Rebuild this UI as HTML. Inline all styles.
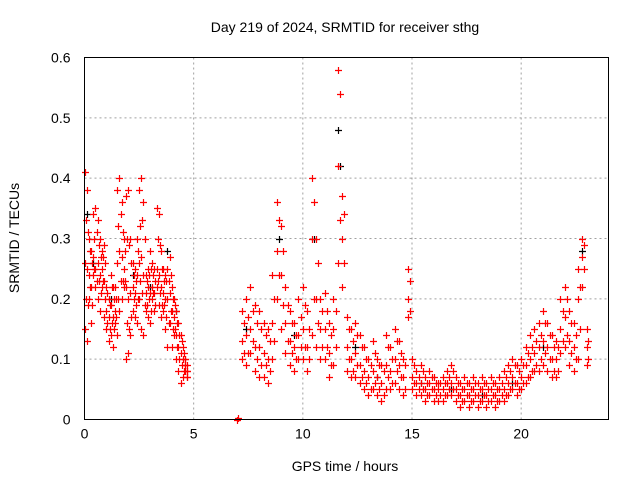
<!DOCTYPE html>
<html><head><meta charset="utf-8"><style>
body{margin:0;background:#fff}
svg{display:block;font-family:"Liberation Sans",sans-serif}
</style></head><body>
<svg id="chart" width="640" height="480" viewBox="0 0 640 480">
<rect x="0" y="0" width="640" height="480" fill="#fff"/>
<text x="345" y="32" font-size="14" text-anchor="middle" fill="#000">Day 219 of 2024, SRMTID for receiver sthg</text>
<text x="345" y="471" font-size="14" text-anchor="middle">GPS time / hours</text>
<text transform="translate(19,238) rotate(-90)" font-size="14" text-anchor="middle">SRMTID / TECUs</text>
<g id="grid"></g><g id="ticks"></g><g id="marks"></g>
<rect x="84.5" y="57.5" width="524" height="362" fill="none" stroke="#000" stroke-width="1"/>
</svg>
<script>
const xTicks=[0,5,10,15,20];
const yTicks=[0,0.1,0.2,0.3,0.4,0.5,0.6];
const yTickLabels=["0","0.1","0.2","0.3","0.4","0.5","0.6"];
const timesA=[0.0,0.1,0.2,0.3,0.4,0.5,0.6,0.7,0.8,0.9,1.0,1.1,1.2,1.3,1.4,1.5,1.6,1.7,1.8,1.9,2.0,2.1,2.2,2.3,2.4,2.5,2.6,2.7,2.8,2.9,3.0,3.1,3.2,3.3,3.4,3.5,3.6,3.7,3.8,3.9,4.0,4.1,4.2,4.3,4.4,4.5,4.6,4.7];
const timesA2=[0.05,0.15,0.25,0.35,0.45,0.55,0.65,0.75,0.85,0.95,1.05,1.15,1.25,1.35,1.45,1.55,1.65,1.75,1.85,1.95,2.05,2.15,2.25,2.35,2.45,2.55,2.65,2.75,2.85,2.95,3.05,3.15,3.25,3.35,3.45,3.55,3.65,3.75,3.85,3.95,4.05,4.15,4.25,4.35,4.45,4.55,4.62,4.68];
const hiA=[.41,.38,.30,.28,.34,.35,.33,.30,.28,.29,.22,.20,.24,.22,.22,.38,.40,.36,.30,.37,.38,.30,.26,.25,.30,.38,.40,.36,.24,.25,.28,.26,.25,.35,.34,.28,.25,.24,.25,.27,.22,.20,.18,.16,.14,.12,.10,.08];
const hi2A=[.33,.31,.28,.26,.30,.31,.29,.27,.27,.26,.21,.19,.22,.20,.20,.32,.34,.31,.28,.30,.29,.26,.24,.23,.28,.32,.33,.30,.23,.24,.25,.24,.23,.30,.29,.25,.23,.23,.23,.24,.20,.19,.16,.14,.13,.11,.10,.09];
const midA=[.26,.25,.24,.22,.27,.25,.26,.24,.25,.23,.18,.17,.19,.17,.18,.26,.28,.27,.25,.22,.20,.21,.22,.21,.24,.26,.27,.24,.21,.22,.21,.22,.21,.25,.24,.22,.21,.20,.20,.21,.18,.17,.14,.12,.11,.10,.09,.08];
const lo2A=[.20,.19,.22,.19,.25,.23,.23,.21,.23,.20,.16,.15,.16,.15,.17,.20,.23,.23,.23,.16,.15,.17,.20,.19,.20,.23,.21,.19,.19,.20,.18,.21,.19,.23,.21,.19,.19,.17,.16,.18,.15,.15,.12,.10,.09,.08,.08,.07];
const loA=[.15,.13,.20,.16,.24,.22,.20,.18,.22,.17,.15,.13,.14,.12,.16,.14,.18,.20,.22,.10,.11,.14,.18,.17,.16,.20,.15,.14,.18,.17,.16,.20,.18,.22,.19,.17,.18,.15,.12,.16,.12,.14,.10,.08,.06,.07,.09,.07];
const timesB=[7.2,7.4,7.6,7.8,8.0,8.2,8.4,8.6,8.8,9.0,9.2,9.4,9.6,9.8,10.0,10.2,10.4,10.6,10.8,11.0,11.2,11.4,11.6,11.8,12.0,12.2,12.4,12.6,12.8,13.0,13.2,13.4,13.6,13.8,14.0,14.2,14.4,14.6,14.8,15.0,15.2,15.4,15.6,15.8,16.0,16.2,16.4,16.6,16.8,17.0,17.2,17.4,17.6,17.8,18.0,18.2,18.4,18.6,18.8,19.0,19.2,19.4,19.6,19.8,20.0,20.2,20.4,20.6,20.8,21.0,21.2,21.4,21.6,21.8,22.0,22.2,22.4,22.6,22.8,23.0];
const timesB2=[7.3,7.5,7.7,7.9,8.1,8.3,8.5,8.7,8.9,9.1,9.3,9.5,9.7,9.9,10.1,10.3,10.5,10.7,10.9,11.1,11.3,11.5,11.7,11.9,12.1,12.3,12.5,12.7,12.9,13.1,13.3,13.5,13.7,13.9,14.1,14.3,14.5,14.7,14.9,15.1,15.3,15.5,15.7,15.9,16.1,16.3,16.5,16.7,16.9,17.1,17.3,17.5,17.7,17.9,18.1,18.3,18.5,18.7,18.9,19.1,19.3,19.5,19.7,19.9,20.1,20.3,20.5,20.7,20.9,21.1,21.3,21.5,21.7,21.9,22.1,22.3,22.5,22.7,22.9,23.05];
const hiB=[.18,.20,.22,.19,.18,.16,.15,.24,.36,.32,.22,.18,.16,.20,.22,.18,.40,.30,.20,.21,.16,.20,.58,.37,.17,.15,.16,.14,.12,.10,.13,.10,.09,.14,.12,.15,.13,.10,.25,.10,.08,.09,.07,.08,.07,.06,.07,.08,.09,.07,.06,.07,.06,.07,.06,.07,.06,.07,.06,.07,.08,.09,.10,.09,.10,.12,.14,.15,.16,.18,.16,.14,.13,.20,.22,.18,.16,.25,.30,.15];
const hi2B=[.16,.17,.18,.16,.15,.14,.13,.20,.33,.28,.19,.16,.14,.17,.19,.15,.36,.26,.18,.18,.14,.18,.54,.34,.15,.13,.14,.12,.10,.09,.11,.09,.08,.12,.10,.13,.11,.09,.23,.09,.07,.08,.06,.07,.06,.06,.06,.07,.08,.06,.05,.06,.05,.06,.05,.06,.05,.06,.05,.06,.07,.08,.09,.08,.09,.11,.12,.13,.14,.16,.14,.12,.12,.18,.20,.16,.14,.22,.29,.13];
const midB=[.13,.14,.15,.12,.12,.11,.10,.16,.28,.24,.16,.13,.12,.14,.15,.12,.30,.20,.15,.15,.11,.15,.42,.30,.12,.10,.11,.09,.08,.07,.08,.07,.06,.09,.08,.10,.09,.07,.20,.07,.06,.06,.05,.06,.05,.05,.05,.06,.06,.05,.04,.05,.04,.05,.04,.05,.04,.05,.04,.05,.05,.06,.07,.06,.07,.09,.10,.11,.12,.13,.12,.10,.10,.15,.17,.13,.12,.20,.27,.12];
const lo2B=[.11,.11,.13,.10,.09,.09,.08,.13,.24,.19,.13,.11,.10,.12,.12,.10,.20,.16,.12,.12,.09,.12,.33,.26,.10,.08,.09,.07,.06,.05,.06,.05,.04,.07,.06,.08,.07,.05,.18,.06,.05,.05,.04,.05,.04,.04,.04,.05,.05,.04,.03,.04,.03,.04,.03,.04,.03,.04,.03,.04,.04,.05,.06,.05,.06,.07,.08,.09,.10,.11,.10,.08,.08,.13,.14,.11,.10,.15,.25,.10];
const loB=[.10,.09,.11,.08,.07,.07,.06,.10,.20,.15,.11,.09,.08,.10,.10,.08,.14,.12,.10,.10,.07,.09,.26,.22,.08,.07,.07,.06,.05,.04,.05,.04,.03,.05,.05,.06,.05,.04,.17,.05,.04,.04,.03,.04,.03,.03,.03,.04,.04,.03,.02,.03,.02,.03,.02,.03,.02,.03,.02,.03,.03,.04,.05,.04,.05,.06,.07,.08,.08,.09,.08,.07,.07,.11,.12,.09,.08,.10,.22,.09];
const blackTimes=[0.1,0.4,1.2,2.2,3.0,3.8,4.2,7.4,8.9,9.6,10.5,11.6,11.7,12.4,13.4,15.4,16.8,18.2,19.6,21.0,22.8];
const blackValues=[.34,.26,.20,.24,.22,.28,.18,.15,.30,.14,.30,.48,.42,.12,.07,.06,.05,.04,.06,.12,.28];
const zeroTimes=[7.0,7.02];
const zeroValues=[0.0,0.003];

const svg=document.getElementById('chart');
const NS='http://www.w3.org/2000/svg';
const X0=84.5,X1=608.5,Y0=419.5,Y1=57.5,XMAX=24,YMAX=0.6;
function xs(t){return X0+(X1-X0)*t/XMAX;}
function ys(v){return Y0-(Y0-Y1)*v/YMAX;}
function mk(tag,attrs){const e=document.createElementNS(NS,tag);for(const k in attrs)e.setAttribute(k,attrs[k]);return e;}
const grid=document.getElementById('grid'),ticks=document.getElementById('ticks'),marks=document.getElementById('marks');
xTicks.forEach(t=>{
  const x=xs(t);
  if(t>0){const g=mk('line',{x1:x,x2:x,y1:Y1,y2:Y0,stroke:'#a0a0a0','stroke-dasharray':'2,3'});
  
  
  grid.appendChild(g);}
  const tl=mk('text',{x:x,y:Y0+19,'font-size':14,'text-anchor':'middle'});
  tl.textContent=String(t);
  
  
  ticks.appendChild(tl);
});
yTicks.forEach((v,i)=>{
  const y=ys(v);
  if(v>0){const g=mk('line',{x1:X0,x2:X1,y1:y,y2:y,stroke:'#a0a0a0','stroke-dasharray':'2,3'});
  
  
  grid.appendChild(g);}
  const tl=mk('text',{x:X0-14,y:y+5,'font-size':14,'text-anchor':'end'});
  tl.textContent=yTickLabels[i];
  
  
  ticks.appendChild(tl);
});
function plus(t,v,color,name){
  const x=Math.round(xs(t))+0.5,y=Math.round(ys(v))+0.5;
  const p=mk('path',{d:`M${x-3.5} ${y}H${x+3.5}M${x} ${y-3.5}V${y+3.5}`,stroke:color,'stroke-width':1.2,fill:'none'});
  
  
  marks.appendChild(p);
}
blackTimes.forEach((t,i)=>plus(t,blackValues[i],'#000','point-black'));
[[timesA,hiA],[timesA2,hi2A],[timesA,midA],[timesA2,lo2A],[timesA,loA],[timesB,hiB],[timesB2,hi2B],[timesB,midB],[timesB2,lo2B],[timesB,loB],[zeroTimes,zeroValues]].forEach(([ts,vs])=>{
  ts.forEach((t,i)=>{plus(t,vs[i],'#ff0000','point-red');});
});
</script>
</body></html>
